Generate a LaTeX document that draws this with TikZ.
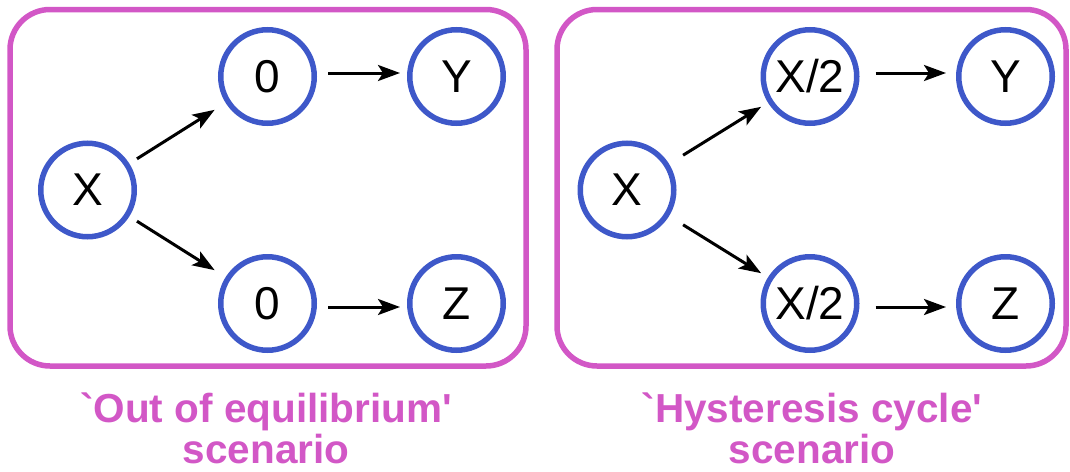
\documentclass[tikz,border=0pt]{standalone}
\usepackage{fontspec}
\setmainfont{Liberation Sans}
\newfontfamily\capfont{Liberation Sans}[Ligatures=TeXOff]
\usetikzlibrary{arrows.meta}
\definecolor{boxpink}{HTML}{D257C6}
\definecolor{ringblue}{HTML}{3E58C9}

\begin{document}
\begin{tikzpicture}[x=1pt,y=-1pt,line width=3pt,>={Stealth[length=22pt,width=16pt,inset=5pt]},st/.style={circle,draw=ringblue,line width=5.5pt,minimum size=93.5pt,inner sep=0pt,font=\fontsize{46}{50}\selectfont},panel/.style={draw=boxpink,line width=5.5pt,rounded corners=40pt},scen/.style={text=boxpink,align=center,inner sep=0pt,anchor=base,font=\capfont\bfseries\fontsize{40.5}{41}\selectfont}]
\useasboundingbox (0,0) rectangle (1070,471);
\draw[panel] (10,9.5) rectangle (526,366);
\draw[panel] (557,9.5) rectangle (1066,366);
% left panel
\node[st] (x1) at (87.5,190) {X};
\node[st] (a1) at (267.5,76.5) {0};
\node[st] (y1) at (456.5,76.5) {Y};
\node[st] (b1) at (267.5,303.5) {0};
\node[st] (z1) at (456.5,303.5) {Z};
\draw[->,shorten <=9pt,shorten >=13pt] (x1) -- (a1);
\draw[->,shorten <=9pt,shorten >=13pt] (x1) -- (b1);
\draw[->,shorten <=11pt,shorten >=7pt] ([yshift=3.5pt]a1.east) -- ([yshift=3.5pt]y1.west);
\draw[->,shorten <=11pt,shorten >=7pt] ([yshift=-3.5pt]b1.east) -- ([yshift=-3.5pt]z1.west);
\node[scen] (c1) at (266,463) {`Out of equilibrium'\\scenario};
% right panel
\node[st] (x2) at (627,190) {X};
\node[st] (a2) at (810,76.5) {X/2};
\node[st] (y2) at (1005.5,76.5) {Y};
\node[st] (b2) at (810,303.5) {X/2};
\node[st] (z2) at (1005.5,303.5) {Z};
\draw[->,shorten <=16.5pt,shorten >=8pt] (x2) -- (a2);
\draw[->,shorten <=16.5pt,shorten >=8pt] (x2) -- (b2);
\draw[->,shorten <=16pt,shorten >=10pt] ([yshift=3.5pt]a2.east) -- ([yshift=3.5pt]y2.west);
\draw[->,shorten <=16pt,shorten >=10pt] ([yshift=-3.5pt]b2.east) -- ([yshift=-3.5pt]z2.west);
\node[scen] (c2) at (812,463) {`Hysteresis cycle'\\scenario};
\end{tikzpicture}
\end{document}
